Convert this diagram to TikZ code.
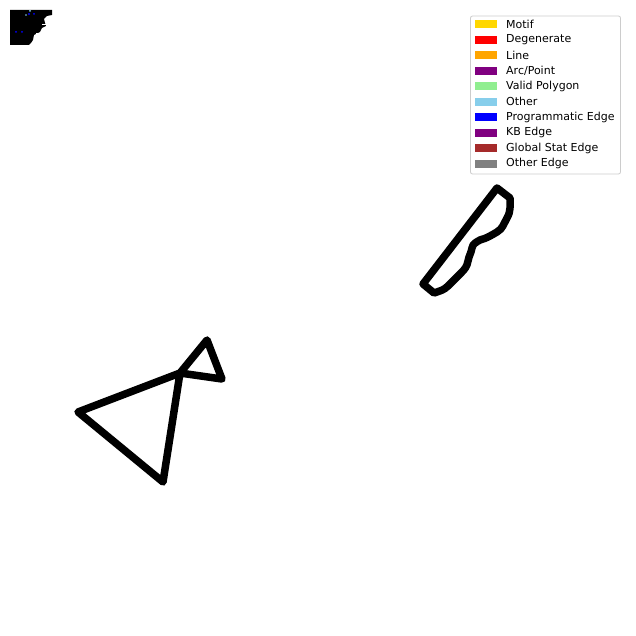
\documentclass[tikz,border=0pt]{standalone}
\usepackage{fontspec}
\setmainfont{DejaVu Sans}
\definecolor{motif}{HTML}{FFD700}
\definecolor{degen}{HTML}{FF0000}
\definecolor{lineC}{HTML}{FFA500}
\definecolor{arcC}{HTML}{800080}
\definecolor{validC}{HTML}{90EE90}
\definecolor{otherC}{HTML}{87CEEB}
\definecolor{progC}{HTML}{0000FF}
\definecolor{kbC}{HTML}{800080}
\definecolor{globC}{HTML}{A52A2A}
\definecolor{oedgeC}{HTML}{808080}
\definecolor{legframe}{HTML}{CCCCCC}
\tikzset{
  shapeline/.style={line width=7.5pt, line join=round, line cap=round, black},
  legpatch/.style={minimum width=22pt, minimum height=8pt, inner sep=0pt, anchor=west},
  legtext/.style={anchor=west, inner sep=0pt, font=\fontsize{11}{12}\selectfont},
}
\begin{document}
\begin{tikzpicture}[x=1pt,y=-1pt]
\useasboundingbox (0,0) rectangle (636,636);
% top-left dense cluster (overlapping tiny graph)
\fill[black] (10,10) -- (52,10) -- (52,15) -- (47,16) -- (44,19) -- (45,23) -- (46,26) -- (42,28) -- (40,32) -- (34,35) -- (33,40) -- (31,43) -- (29,45) -- (10,45) -- cycle;
\fill[white] (42,24) rectangle (46,25.2);
\fill[white] (36,33) rectangle (41,34.2);
\fill[blue] (29,14) circle (1.2pt);
\fill[blue] (34,14) circle (1.0pt);
\fill[otherC] (30,11) circle (1.0pt);
\fill[otherC] (26,15) circle (0.9pt);
\fill[blue] (16,32) circle (1.0pt);
\fill[blue] (22,32) circle (1.0pt);

% knife-like shape
\coordinate (k1) at (497,188);
\coordinate (k2) at (510,198);
\coordinate (k3) at (507,218);
\coordinate (k4) at (497,232);
\coordinate (k5) at (480,240);
\coordinate (k6) at (472,248);
\coordinate (k7) at (468,261);
\coordinate (k8) at (461,273);
\coordinate (k9) at (448,286);
\coordinate (k10) at (434,293);
\coordinate (k11) at (423,284);
\draw[shapeline] (k1) -- (k2) to[out=-90,in=60] (k3) to[out=-120,in=30] (k4) to[out=-150,in=15] (k5) to[out=-150,in=80] (k6) to[out=-100,in=80] (k7) to[out=-100,in=45] (k8) -- (k9) to[out=-135,in=20] (k10) -- (k11) -- cycle;

% bow-tie triangles
\coordinate (tl) at (78,412);
\coordinate (tc) at (180,373);
\coordinate (tt) at (207,340);
\coordinate (tr) at (222,379);
\coordinate (tb) at (163,482);
\draw[shapeline] (tl) -- (tc) -- (tt) -- (tr) -- (tc) -- (tb) -- cycle;

% legend
\draw[legframe, fill=white, rounded corners=2pt, line width=0.8pt] (470.5,16) rectangle (620.5,174);
\foreach \i/\c/\t/\n in {0/motif/Motif/a, 1/degen/Degenerate/b, 2/lineC/Line/c, 3/arcC/Arc\slash Point/d, 4/validC/Valid Polygon/e, 5/otherC/Other/f, 6/progC/Programmatic Edge/g, 7/kbC/KB Edge/h, 8/globC/Global Stat Edge/i, 9/oedgeC/Other Edge/j}{
  \node[legpatch, fill=\c] (p\n) at (475,{24.3+15.5*\i}) {};
  \node[legtext] (t\n) at (506,{24.3+15.5*\i}) {\t};
}
\end{tikzpicture}
\end{document}
